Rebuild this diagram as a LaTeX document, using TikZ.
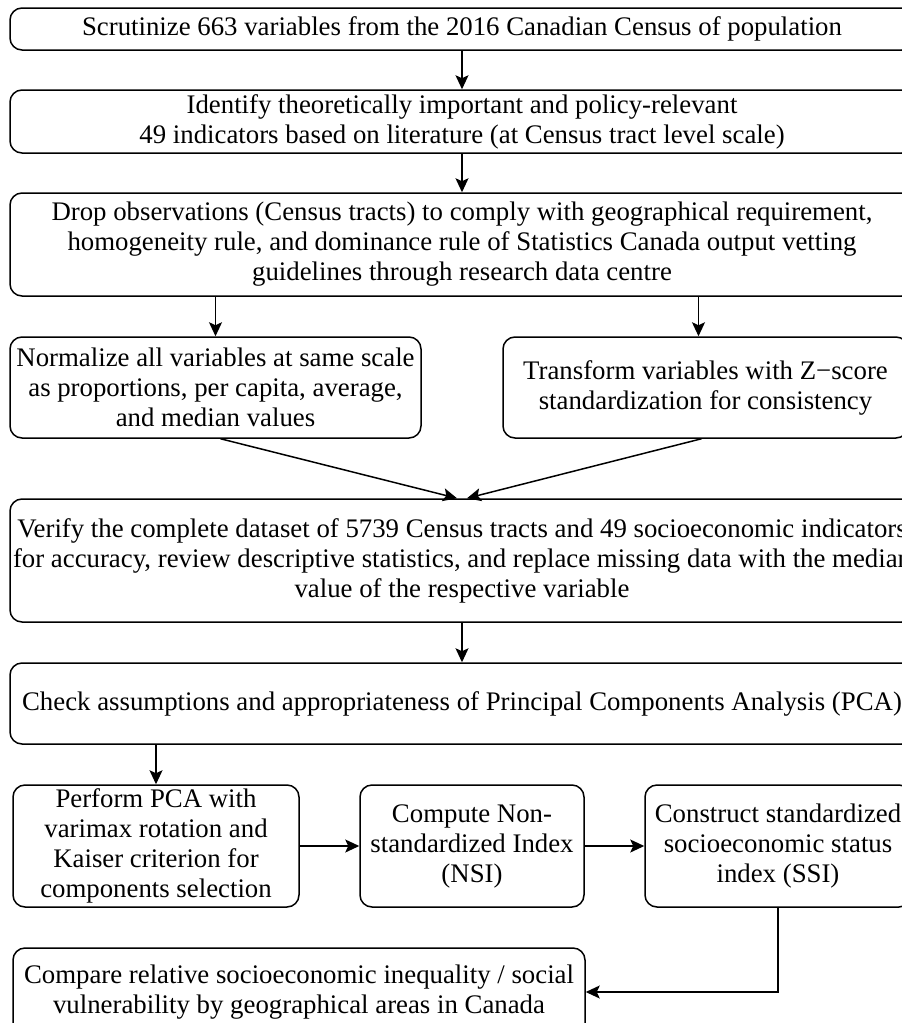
\documentclass[tikz,border=0pt]{standalone}
\usepackage{fontspec}
\setmainfont{Liberation Serif}
\usetikzlibrary{arrows.meta}
\begin{document}
\begin{tikzpicture}[x=1pt,y=-1pt,
  box/.style={draw, line width=1.5pt, rounded corners=12pt, align=center, inner sep=0pt, font=\fontsize{26.8}{30}\selectfont},
  arr/.style={line width=1.5pt, -{Stealth[length=14pt,width=13pt,inset=3pt]}}]
\useasboundingbox[fill=white] (0,0) rectangle (902,1023);
\node[box, minimum width=904pt, minimum height=42pt] (b1) at (462,29) {Scrutinize 663 variables from the 2016 Canadian Census of population};
\node[box, minimum width=904pt, minimum height=63pt] (b2) at (462,121.5) {Identify theoretically important and policy-relevant\\49 indicators based on literature (at Census tract level scale)};
\node[box, minimum width=904pt, minimum height=103pt] (b3) at (462,244.5) {Drop observations (Census tracts) to comply with geographical requirement,\\homogeneity rule, and dominance rule of Statistics Canada output vetting\\guidelines through research data centre};
\node[box, minimum width=411pt, minimum height=101pt] (b4) at (215.5,387.5) {Normalize all variables at same scale\\as proportions, per capita, average,\\and median values};
\node[box, minimum width=405pt, minimum height=101pt] (b5) at (705.5,387.5) {Transform variables with Z−score\\standardization for consistency};
\node[box, minimum width=904pt, minimum height=123pt] (b6) at (462,560.5) {Verify the complete dataset of 5739 Census tracts and 49 socioeconomic indicators\\for accuracy, review descriptive statistics, and replace missing data with the median\\value of the respective variable};
\node[box, minimum width=904pt, minimum height=81pt] (b7) at (462,703.5) {Check assumptions and appropriateness of Principal Components Analysis (PCA)};
\node[box, minimum width=286pt, minimum height=122pt] (b8) at (156,846) {Perform PCA with\\varimax rotation and\\Kaiser criterion for\\components selection};
\node[box, minimum width=224pt, minimum height=122pt] (b9) at (472,846) {Compute Non-\\standardized Index\\(NSI)};
\node[box, minimum width=266pt, minimum height=122pt] (b10) at (778,846) {Construct standardized\\socioeconomic status\\index (SSI)};
\node[box, minimum width=572pt, minimum height=88pt] (b11) at (299,992) {Compare relative socioeconomic inequality / social\\vulnerability by geographical areas in Canada};
\draw[arr] (b1.south) -- (b2.north);
\draw[arr] (b2.south) -- (b3.north);
\draw[arr] (b4.north |- b3.south) -- (b4.north);
\draw[arr] ([xshift=-7pt]b5.north |- b3.south) -- ([xshift=-7pt]b5.north);
\draw[arr] ([xshift=5pt]b4.south) -- ([xshift=-5pt]b6.north);
\draw[arr] ([xshift=-4pt]b5.south) -- ([xshift=5pt]b6.north);
\draw[arr] (b6.south) -- (b7.north);
\draw[arr] (b8.north |- b7.south) -- (b8.north);
\draw[arr] (b8.east) -- (b9.west);
\draw[arr] (b9.east) -- (b10.west);
\draw[arr] (b10.south) |- (b11.east);
\end{tikzpicture}
\end{document}
